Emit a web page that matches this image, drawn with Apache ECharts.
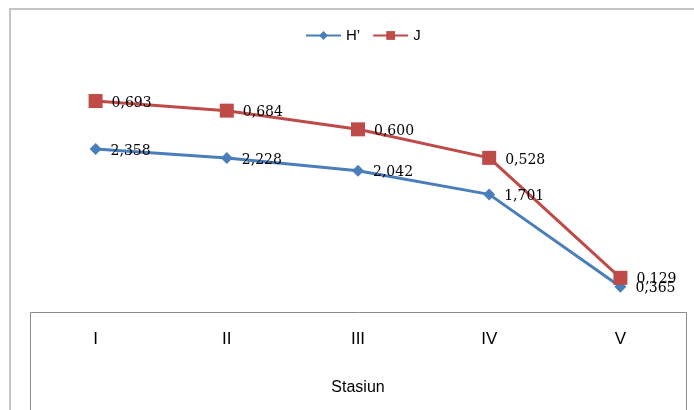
<!DOCTYPE html>
<html>
<head>
<meta charset="utf-8">
<script src="https://cdn.jsdelivr.net/npm/echarts@6/dist/echarts.min.js"></script>
<style>
  html, body { margin: 0; padding: 0; background: #fff; }
  #chart { width: 694px; height: 410px; }
</style>
</head>
<body>
<div id="chart"></div>
<script>
// Stations and diversity indices (Shannon H' and evenness J)
const stations = ['I', 'II', 'III', 'IV', 'V'];
const hValues = [2.358, 2.228, 2.042, 1.701, 0.365];
const jValues = [0.693, 0.684, 0.600, 0.528, 0.129];
const seriesNames = ['H’', 'J'];

const fmt = v => v.toFixed(3).replace('.', ',');

const labelStyle = {
  show: true,
  position: 'right',
  distance: 9,
  offset: [0, 2],
  fontFamily: 'DejaVu Serif',
  fontSize: 14,
  color: '#000',
  formatter: p => fmt(p.value)
};

const sans = 'Liberation Sans';

const chart = echarts.init(document.getElementById('chart'), null, { renderer: 'canvas' });

chart.setOption({
  animation: false,
  backgroundColor: '#ffffff',
  graphic: [
    {
      type: 'rect',
      shape: { x: 10, y: 9, width: 700, height: 420 },
      style: { fill: 'none', stroke: '#c4c4c4', lineWidth: 2 },
      z: -1
    },
    {
      type: 'rect',
      shape: { x: 30.5, y: 312.5, width: 656, height: 120 },
      style: { fill: 'none', stroke: '#8c8c8c', lineWidth: 1 },
      z: -1
    }
  ],
  legend: {
    top: 23,
    left: 300,
    itemWidth: 35,
    itemHeight: 11,
    itemGap: 12,
    textStyle: { fontFamily: sans, fontSize: 15, color: '#000' },
    data: seriesNames
  },
  grid: { left: 30, right: 8, top: 70, bottom: 98 },
  xAxis: {
    type: 'category',
    data: stations,
    boundaryGap: true,
    axisLine: { show: false },
    axisTick: { show: false },
    axisLabel: {
      margin: 19,
      fontFamily: sans,
      fontSize: 17,
      color: '#000'
    },
    name: 'Stasiun',
    nameLocation: 'middle',
    nameGap: 68,
    nameTextStyle: { fontFamily: sans, fontSize: 16, color: '#000' }
  },
  yAxis: {
    type: 'value',
    min: 0,
    max: 3.5,
    show: false,
    splitLine: { show: false }
  },
  series: [
    {
      name: seriesNames[0],
      type: 'line',
      stack: 'idx',
      data: hValues,
      symbol: 'diamond',
      symbolSize: 12,
      color: '#4a7ebb',
      lineStyle: { width: 3, color: '#4a7ebb' },
      itemStyle: { color: '#4a7ebb' },
      label: labelStyle
    },
    {
      name: seriesNames[1],
      type: 'line',
      stack: 'idx',
      data: jValues,
      symbol: 'rect',
      symbolSize: 14,
      color: '#be4b48',
      lineStyle: { width: 3, color: '#be4b48' },
      itemStyle: { color: '#be4b48' },
      label: labelStyle
    }
  ]
});
</script>
</body>
</html>
